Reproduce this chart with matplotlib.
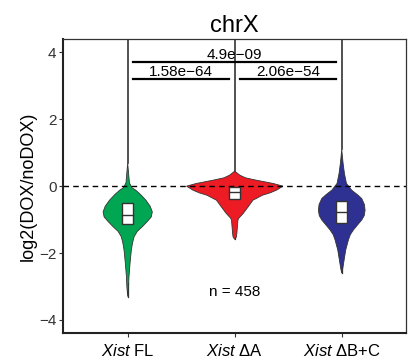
import matplotlib
matplotlib.use("Agg")
import matplotlib.pyplot as plt
import numpy as np

plt.rcParams['font.family'] = ['Liberation Sans', 'DejaVu Sans']
plt.rcParams['mathtext.fontset'] = 'custom'
plt.rcParams['mathtext.rm'] = 'Liberation Sans'
plt.rcParams['mathtext.it'] = 'Liberation Sans:italic'

# ---- data ----
categories = ["FL", "ΔA", "ΔB+C"]
tick_labels = [r"$\mathit{Xist}$ FL", r"$\mathit{Xist}$ ΔA", r"$\mathit{Xist}$ ΔB+C"]
colors = ["#00A651", "#ED1C24", "#2E3192"]

# violin outlines: y values and half-widths (x data units)
fl_y = [0.69, 0.4, 0.1, -0.05, -0.12, -0.25, -0.42, -0.6, -0.77, -0.92, -1.05, -1.21,
        -1.35, -1.51, -1.7, -1.91, -2.3, -2.7, -3.0, -3.3]
fl_w = [0.0, 0.008, 0.016, 0.04, 0.075, 0.12, 0.17, 0.21, 0.23, 0.22, 0.185, 0.137,
        0.09, 0.06, 0.045, 0.034, 0.022, 0.012, 0.008, 0.0]
da_y = [0.45, 0.33, 0.25, 0.18, 0.08, 0.0, -0.12, -0.2, -0.27, -0.42, -0.62, -0.82,
        -0.95, -1.01, -1.21, -1.41, -1.52, -1.59]
da_w = [0.0, 0.047, 0.1, 0.2, 0.36, 0.45, 0.39, 0.33, 0.26, 0.17, 0.125, 0.078,
        0.04, 0.03, 0.025, 0.02, 0.015, 0.0]
dbc_y = [1.1, 0.7, 0.38, 0.08, -0.12, -0.25, -0.37, -0.55, -0.72, -0.88, -1.01, -1.15,
         -1.31, -1.45, -1.61, -1.91, -2.21, -2.45, -2.6]
dbc_w = [0.0, 0.012, 0.025, 0.044, 0.093, 0.145, 0.187, 0.212, 0.218, 0.21, 0.187, 0.15,
         0.109, 0.08, 0.062, 0.037, 0.022, 0.01, 0.0]

# box stats: q1, median, q3
box_q1 = [-1.13, -0.37, -1.1]
box_med = [-0.85, -0.17, -0.77]
box_q3 = [-0.5, -0.03, -0.45]

# significance
pvals = ["1.58e−64", "2.06e−54", "4.9e−09"]
n_label = "n = 458"

outlines = [(fl_y, fl_w), (da_y, da_w), (dbc_y, dbc_w)]

fig = plt.figure(figsize=(4.08, 3.63), dpi=100)
ax = fig.add_axes([0.1556, 0.0826, 0.9950 - 0.1556, 0.8926 - 0.0826])
ax.set_xlim(0.4, 3.6)
ax.set_ylim(-4.39, 4.4)

for i, ((ys, ws), col) in enumerate(zip(outlines, colors)):
    pos = i + 1
    ys = np.array(ys); ws = np.array(ws)
    # line from violin top to above plot
    ax.plot([pos, pos], [ys.max(), 4.5], color="#333333", lw=1.2, zorder=2, clip_on=True)
    # bottom tail line
    ax.plot([pos, pos], [ys.min(), ys.min() + 0.4], color="#333333", lw=0.9, zorder=2)
    xs = np.concatenate([pos - ws, (pos + ws)[::-1]])
    yy = np.concatenate([ys, ys[::-1]])
    ax.fill(xs, yy, facecolor=col, edgecolor="#333333", lw=0.6, zorder=3)
    bw = 0.05
    ax.add_patch(plt.Rectangle((pos - bw, box_q1[i]), 2 * bw, box_q3[i] - box_q1[i],
                               facecolor="white", edgecolor="#333333", lw=1.0, zorder=4))
    ax.plot([pos - bw, pos + bw], [box_med[i]] * 2, color="#333333", lw=1.0, zorder=5)

ax.axhline(0, color="black", lw=1.0, ls=(0, (4, 3)), zorder=3.5)

# significance bars
bar_specs = [(1.05, 1.95, 3.2, pvals[0]), (2.05, 2.95, 3.2, pvals[1]), (1.05, 2.95, 3.72, pvals[2])]
for x0, x1, yb, txt in bar_specs:
    ax.plot([x0, x1], [yb, yb], color="black", lw=1.6, zorder=6)
    ax.text((x0 + x1) / 2, yb + 0.09, txt, ha="center", va="baseline", fontsize=11, zorder=7)

ax.text(2, -3.15, n_label, ha="center", va="center", fontsize=11)

ax.set_title("chrX", fontsize=17, pad=5)
ax.set_ylabel("log2(DOX/noDOX)", fontsize=13, labelpad=2)
ax.set_xticks([1, 2, 3])
ax.set_xticklabels(tick_labels, fontsize=12)
ax.set_yticks([-4, -2, 0, 2, 4])
ax.set_yticklabels(["−4", "−2", "0", "2", "4"], fontsize=11, color="#333333")
ax.tick_params(axis="both", length=3, width=0.8, color="#333333", pad=2)
ax.tick_params(axis="x", pad=4)

for s in ["left", "bottom"]:
    ax.spines[s].set_linewidth(1.5)
    ax.spines[s].set_color("#222222")
for s in ["top", "right"]:
    ax.spines[s].set_linewidth(0.9)
    ax.spines[s].set_color("#333333")

fig.savefig("out.png", dpi=100)
